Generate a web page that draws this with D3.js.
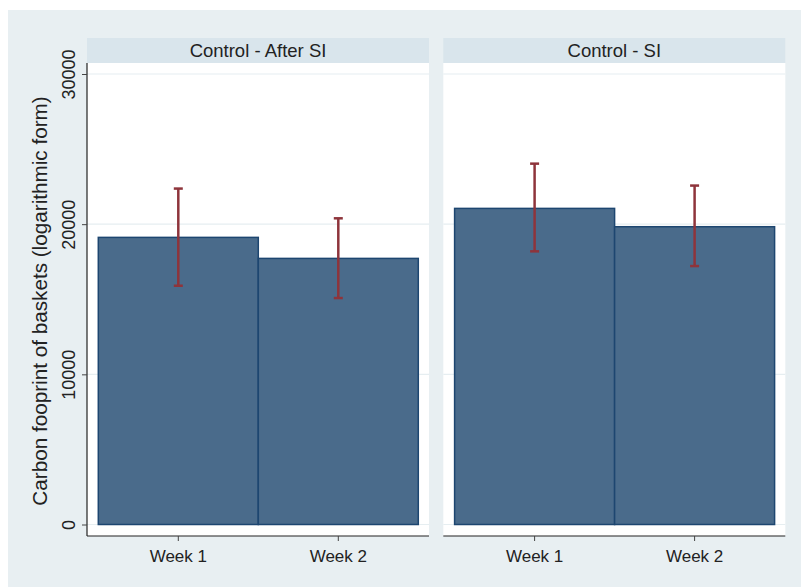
<!DOCTYPE html>
<html>
<head>
<meta charset="utf-8">
<script src="https://cdn.jsdelivr.net/npm/d3@7"></script>
<style>
  html, body { margin: 0; padding: 0; background: #ffffff; }
  svg { display: block; font-family: "Liberation Sans", Arial, sans-serif; }
</style>
</head>
<body>
<svg id="chart" width="801" height="587"></svg>
<script>
// Panels, weeks and per-bar estimates with confidence limits
const panels = ["Control - After SI", "Control - SI"];
const weeks = ["Week 1", "Week 2"];
const means = [[19120, 17720], [21050, 19830]];
const lower = [[15900, 15080], [18190, 17210]];
const upper = [[22370, 20390], [24030, 22570]];
const yTicks = [0, 10000, 20000, 30000];
const yTitle = "Carbon fooprint of baskets (logarithmic form)";

const svg = d3.select("#chart");
const font = "Liberation Sans, Arial, sans-serif";

// outer canvas
svg.append("rect").attr("x", 8).attr("y", 10).attr("width", 793).attr("height", 577)
  .attr("fill", "#e8eff2");

const plotTop = 63, plotBottom = 536;
const panelX = [87, 443.3];
const panelW = 342;
const stripH = 25;

const y = d3.scaleLinear().domain([0, 30000]).range([524.5, 74]);

panels.forEach((name, p) => {
  const x0 = panelX[p];
  const g = svg.append("g");

  // strip
  g.append("rect").attr("x", x0).attr("y", plotTop - stripH).attr("width", panelW).attr("height", stripH)
    .attr("fill", "#d9e5ec");
  g.append("text").attr("x", x0 + panelW / 2).attr("y", plotTop - 6.5)
    .attr("text-anchor", "middle").attr("font-size", 18.5).attr("fill", "#222")
    .text(name);

  // plot area
  g.append("rect").attr("x", x0).attr("y", plotTop).attr("width", panelW).attr("height", plotBottom - plotTop)
    .attr("fill", "#ffffff");

  // gridlines
  g.selectAll("line.grid").data(yTicks).join("line")
    .attr("x1", x0).attr("x2", x0 + panelW)
    .attr("y1", d => y(d)).attr("y2", d => y(d))
    .attr("stroke", "#e6eef1").attr("stroke-width", 1.2);

  const x = d3.scaleBand().domain(weeks).range([x0 + 11.3, x0 + 11.3 + 320]).padding(0);

  // bars
  g.selectAll("rect.bar").data(weeks).join("rect")
    .attr("x", d => x(d)).attr("width", x.bandwidth())
    .attr("y", (d, i) => y(means[p][i]))
    .attr("height", (d, i) => y(0) - y(means[p][i]))
    .attr("fill", "#4a6b8b").attr("stroke", "#1d4670").attr("stroke-width", 1.5);

  // error bars
  const cx = d => x(d) + x.bandwidth() / 2;
  g.selectAll("line.err").data(weeks).join("line")
    .attr("x1", cx).attr("x2", cx)
    .attr("y1", (d, i) => y(lower[p][i])).attr("y2", (d, i) => y(upper[p][i]))
    .attr("stroke", "#8e343b").attr("stroke-width", 2.5);
  [lower, upper].forEach(arr => {
    g.selectAll(null).data(weeks).join("line")
      .attr("x1", d => cx(d) - 4.5).attr("x2", d => cx(d) + 4.5)
      .attr("y1", (d, i) => y(arr[p][i])).attr("y2", (d, i) => y(arr[p][i]))
      .attr("stroke", "#8e343b").attr("stroke-width", 2.5);
  });

  // x axis
  const xa = g.append("g").attr("transform", `translate(0,${plotBottom})`)
    .call(d3.axisBottom(x).tickSize(5));
  xa.select(".domain").attr("d", `M${x0},0H${x0 + panelW}`).attr("stroke", "#222").attr("stroke-width", 1.2);
  xa.selectAll(".tick line").attr("stroke", "#444");
  xa.selectAll(".tick text").attr("font-size", 17).attr("fill", "#222")
    .attr("font-family", font).attr("y", 26).attr("dy", 0);

  // y axis on the first panel only
  if (p === 0) {
    const ya = g.append("g").attr("transform", `translate(${x0},0)`)
      .call(d3.axisLeft(y).tickValues(yTicks).tickFormat(d3.format("d")).tickSize(5));
    ya.select(".domain").attr("d", `M0,${plotTop}V${plotBottom}`).attr("stroke", "#222").attr("stroke-width", 1.2);
    ya.selectAll(".tick line").attr("stroke", "#444");
    ya.selectAll(".tick text")
      .attr("font-size", 18).attr("fill", "#222")
      .attr("font-family", font)
      .attr("text-anchor", "middle").attr("dy", 0)
      .attr("x", 0).attr("y", 0)
      .attr("transform", "translate(-12,0) rotate(-90)");
  }
});

// y axis title
svg.append("text")
  .attr("transform", "translate(47,301) rotate(-90)")
  .attr("text-anchor", "middle").attr("font-size", 20.7).attr("fill", "#222")
  .text(yTitle);
</script>
</body>
</html>
